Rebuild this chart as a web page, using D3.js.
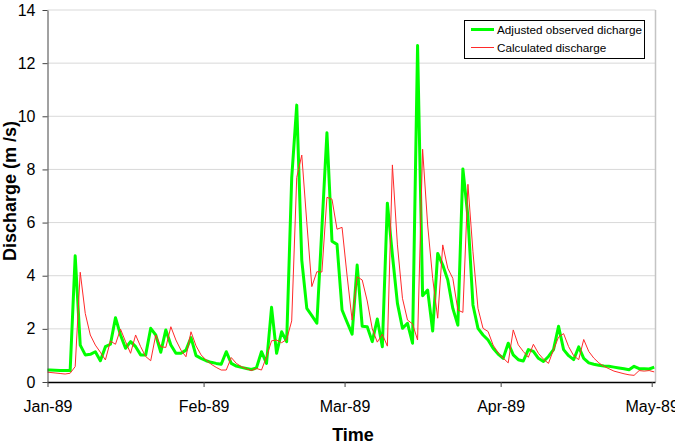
<!DOCTYPE html>
<html>
<head>
<meta charset="utf-8">
<script src="https://cdn.jsdelivr.net/npm/d3@7"></script>
<style>
  body { margin: 0; background: #fff; }
  svg { display: block; font-family: "Liberation Sans", Arial, sans-serif; }
</style>
</head>
<body>
<svg id="chart" width="675" height="446"></svg>
<script>
// daily series, first value is 31 Dec 1988, last is 1 May 1989
var startDay = Date.UTC(1988, 11, 31);
var observed = [
  0.45, 0.45, 0.44, 0.43, 0.43, 0.43, 4.75, 1.39, 1.02, 1.04, 1.14,
  0.80, 1.33, 1.42, 2.42, 1.77, 1.27, 1.52, 1.33, 1.02, 1.02,
  2.02, 1.77, 1.12, 1.96, 1.39, 1.08, 1.08, 1.20, 1.67, 0.99,
  0.89, 0.80, 0.74, 0.70, 0.67, 1.14, 0.70, 0.60, 0.55, 0.51,
  0.47, 0.53, 1.14, 0.70, 2.81, 1.08, 1.89, 1.52, 7.67, 10.42,
  4.59, 2.77, 2.50, 2.21, 5.80, 9.38, 5.30, 5.18, 2.71, 2.25,
  1.80, 4.40, 2.10, 2.08, 1.52, 2.37, 1.33, 6.73, 4.78, 2.96,
  2.02, 2.21, 1.46, 12.66, 3.25, 3.46, 1.92, 4.84, 4.40, 3.84,
  2.77, 2.14, 8.02, 6.22, 2.90, 2.02, 1.77, 1.58, 1.27, 1.05,
  0.89, 1.46, 1.02, 0.84, 0.79, 1.22, 1.15, 0.89, 0.77, 0.96,
  1.22, 2.10, 1.22, 0.99, 0.84, 1.32, 0.89, 0.72, 0.67, 0.63,
  0.60, 0.59, 0.56, 0.53, 0.50, 0.46, 0.59, 0.50, 0.50, 0.49,
  0.56
];
var calculated = [
  0.38, 0.36, 0.34, 0.32, 0.30, 0.33, 0.58, 4.13, 2.58, 1.77, 1.39,
  1.12, 0.83, 1.54, 1.42, 1.99, 1.52, 1.08, 1.77, 1.33, 0.96,
  0.80, 1.77, 1.33, 1.30, 2.08, 1.58, 1.20, 0.95, 1.89, 1.36,
  1.02, 0.83, 0.67, 0.55, 0.45, 0.45, 0.92, 0.70, 0.58, 0.50,
  0.43, 0.51, 0.45, 0.95, 1.55, 1.58, 1.48, 1.60, 2.30, 7.70,
  8.54, 6.00, 3.59, 4.15, 4.14, 6.95, 6.88, 5.75, 5.82, 4.00,
  2.33, 3.96, 3.84, 3.05, 2.00, 1.50, 1.80, 1.35, 8.17, 5.16,
  3.15, 2.33, 2.19, 1.58, 8.76, 5.91, 3.90, 2.40, 5.16, 4.28,
  3.90, 2.71, 2.62, 7.44, 4.90, 2.77, 2.02, 1.90, 1.39, 1.10,
  0.90, 0.72, 1.96, 1.40, 1.15, 0.93, 1.42, 1.08, 0.86, 0.70,
  1.22, 1.69, 1.82, 1.33, 0.99, 0.84, 1.60, 1.15, 0.90, 0.72,
  0.59, 0.50, 0.41, 0.36, 0.31, 0.27, 0.25, 0.43, 0.41, 0.43,
  0.38
];
var monthTicks = [
  new Date(Date.UTC(1989, 0, 1)), new Date(Date.UTC(1989, 1, 1)),
  new Date(Date.UTC(1989, 2, 1)), new Date(Date.UTC(1989, 3, 1)),
  new Date(Date.UTC(1989, 4, 1))
];
var yTicks = [0, 2, 4, 6, 8, 10, 12, 14];
var seriesNames = ['Adjusted observed dicharge', 'Calculated discharge'];

// each daily value sits in the middle of its day
function dayDate(i) { return new Date(startDay + i * 864e5 + 432e5); }

var svg = d3.select('#chart');
var plotLeft = 47.5, plotRight = 655.5, plotTop = 10, plotBottom = 382;

var x = d3.scaleUtc()
  .domain([monthTicks[0], monthTicks[4]])
  .range([plotLeft, 651.7]);
var y = d3.scaleLinear().domain([0, 14]).range([plotBottom, plotTop]);

// gridlines
svg.append('g').selectAll('line')
  .data(yTicks.slice(1))
  .enter().append('line')
    .attr('x1', plotLeft).attr('x2', plotRight)
    .attr('y1', function(d){ return y(d); })
    .attr('y2', function(d){ return y(d); })
    .style('stroke', '#d9d9d9')
    .style('stroke-width', 1);

// right border of plot area
svg.append('line')
  .attr('x1', plotRight).attr('x2', plotRight)
  .attr('y1', plotTop).attr('y2', plotBottom)
  .style('stroke', '#c4c4c4')
  .style('stroke-width', 1.5);

svg.append('clipPath').attr('id', 'plot')
  .append('rect')
    .attr('x', plotLeft).attr('y', 0)
    .attr('width', plotRight - plotLeft).attr('height', plotBottom);

var line = d3.line()
  .x(function(d, i){ return x(dayDate(i)); })
  .y(function(d){ return y(d); });

svg.append('path')
  .datum(observed)
  .attr('clip-path', 'url(#plot)')
  .attr('d', line)
  .style('fill', 'none')
  .style('stroke', '#00ff00')
  .style('stroke-width', 3)
  .style('stroke-linejoin', 'round');

svg.append('path')
  .datum(calculated)
  .attr('clip-path', 'url(#plot)')
  .attr('d', line)
  .style('fill', 'none')
  .style('stroke', '#ff2a2a')
  .style('stroke-width', 1);

// axes
var xAxis = svg.append('g')
  .attr('transform', 'translate(0,' + plotBottom + ')')
  .call(d3.axisBottom(x)
    .tickValues(monthTicks)
    .tickFormat(d3.utcFormat('%b-%y'))
    .tickSize(5)
    .tickSizeOuter(0));
xAxis.select('.domain').attr('d', 'M' + plotLeft + ',0.5H' + plotRight).style('stroke', '#000').style('stroke-width', 1.5);
xAxis.selectAll('.tick line').style('stroke', '#444');
xAxis.selectAll('.tick text')
  .attr('y', 19)
  .style('font-size', '16px')
  .style('fill', '#000');

var yAxis = svg.append('g')
  .attr('transform', 'translate(' + plotLeft + ',0)')
  .call(d3.axisLeft(y).tickValues(yTicks).tickSize(5).tickSizeOuter(0));
yAxis.select('.domain').style('stroke', '#444');
yAxis.selectAll('.tick line').style('stroke', '#444');
yAxis.selectAll('.tick text')
  .attr('x', -12)
  .style('font-size', '16px')
  .style('fill', '#000');

// axis titles
svg.append('text')
  .attr('x', 353).attr('y', 441)
  .attr('text-anchor', 'middle')
  .style('font-size', '18px')
  .style('font-weight', 'bold')
  .text('Time');

svg.append('text')
  .attr('transform', 'translate(16,191) rotate(-90)')
  .attr('text-anchor', 'middle')
  .style('font-size', '18px')
  .style('font-weight', 'bold')
  .text('Discharge (m /s)');

// legend
var legend = svg.append('g').attr('transform', 'translate(464,20)');
legend.append('rect')
  .attr('x', 0.5).attr('y', 0.5)
  .attr('width', 180).attr('height', 38)
  .style('fill', '#fff')
  .style('stroke', '#000')
  .style('stroke-width', 1);
var legendColors = ['#00ff00', '#ff2a2a'];
var legendWidths = [3, 1];
seriesNames.forEach(function(name, i){
  var ly = 9.5 + i * 18;
  legend.append('line')
    .attr('x1', 7).attr('x2', 30)
    .attr('y1', ly).attr('y2', ly)
    .style('stroke', legendColors[i])
    .style('stroke-width', legendWidths[i]);
  legend.append('text')
    .attr('x', 33).attr('y', ly + 4.2)
    .style('font-size', '11.7px')
    .text(name);
});
</script>
</body>
</html>
